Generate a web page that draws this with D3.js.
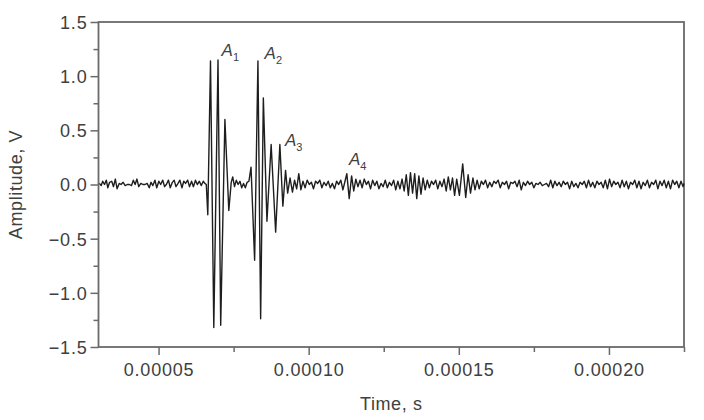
<!DOCTYPE html>
<html>
<head>
<meta charset="utf-8">
<script src="https://cdn.jsdelivr.net/npm/d3@7"></script>
<style>
  body { margin: 0; background: #fff; }
  text { font-family: "Liberation Sans", Arial, sans-serif; fill: #404040; }
</style>
</head>
<body>
<svg id="svg"></svg>
<script>
  // signal segments, [time in microseconds, amplitude in V]
  const leadNoise = [
    [30.3, 0.01], [30.9, -0.01], [31.4, 0.03], [32.0, 0.00], [32.6, 0.04], [33.1, -0.03],
    [33.7, 0.02], [34.4, 0.03], [35.0, -0.02], [35.6, 0.05], [36.2, -0.04], [36.9, 0.01],
    [37.5, 0.00], [38.2, 0.02], [38.9, -0.01], [39.6, 0.00], [40.3, 0.00], [41.0, -0.01],
    [41.6, 0.04], [42.2, 0.00], [42.8, 0.05], [43.4, -0.02], [44.1, 0.01], [44.8, 0.00],
    [45.5, 0.00], [46.2, 0.01], [46.9, -0.03], [47.5, 0.02], [48.1, -0.01], [48.8, 0.04],
    [49.4, -0.03], [50.1, 0.03], [50.7, 0.00], [51.4, 0.04], [52.0, -0.02], [52.6, 0.00],
    [53.3, 0.04], [53.9, -0.03], [54.6, 0.02], [55.2, 0.04], [55.8, -0.02], [56.5, 0.01],
    [57.1, 0.04], [57.8, -0.03], [58.4, 0.03], [59.0, 0.01], [59.7, 0.04], [60.3, -0.02],
    [61.0, 0.03], [61.6, -0.02], [62.3, 0.04], [62.9, 0.00], [63.6, 0.03], [64.2, -0.01],
    [64.9, 0.03], [65.4, 0.01]
  ];
  const burstA1 = [
    [65.9, 0.00], [66.4, -0.28], [67.3, 1.14], [68.4, -1.32], [69.8, 1.15], [70.7, -1.30],
    [72.1, 0.60], [73.4, -0.24]
  ];
  const gapNoise = [
    [74.2, 0.02], [74.7, 0.07], [75.3, -0.02], [75.9, 0.04], [76.5, 0.00], [77.1, 0.03],
    [77.7, -0.03], [78.3, 0.01], [78.9, -0.03], [79.5, 0.02], [80.1, 0.03]
  ];
  const burstA2 = [
    [80.8, 0.16], [82.0, -0.70], [83.1, 1.14], [84.0, -1.24], [84.9, 0.80], [86.1, -0.34],
    [87.5, 0.37], [89.0, -0.44], [90.4, 0.37], [91.4, -0.20], [92.3, 0.13], [93.0, -0.08],
    [93.8, 0.06], [94.6, -0.07], [95.3, 0.04], [96.0, -0.04], [96.7, 0.10], [97.4, -0.05]
  ];
  const midNoise = [
    [98.1, 0.03], [98.8, -0.03], [99.5, 0.04], [100.2, 0.00], [100.9, 0.02], [101.6, -0.04],
    [102.3, 0.03], [103.0, 0.01], [103.7, 0.04], [104.4, -0.03], [105.1, 0.02], [105.8, -0.01],
    [106.5, 0.03], [107.2, -0.03], [107.9, 0.01], [108.6, -0.04], [109.3, 0.03], [110.0, 0.00],
    [110.7, 0.04], [111.4, -0.05], [112.1, 0.03], [112.7, 0.10], [113.5, -0.13], [114.3, 0.08],
    [115.0, -0.06], [115.7, 0.05], [116.4, -0.02], [117.1, 0.04], [117.8, -0.03], [118.5, 0.05],
    [119.2, 0.00], [119.9, 0.03], [120.6, -0.04], [121.3, 0.04], [122.0, -0.01], [122.7, 0.03],
    [123.4, -0.04], [124.1, 0.01], [124.8, -0.02], [125.5, 0.04], [126.2, -0.03], [126.9, 0.02],
    [127.6, -0.01], [128.3, 0.04], [129.0, -0.05], [129.7, 0.03], [130.4, -0.04], [131.1, 0.05],
    [131.8, -0.06], [132.5, 0.09], [133.2, -0.10], [133.9, 0.11], [134.6, -0.08], [135.3, 0.10],
    [136.0, -0.13], [136.7, 0.08], [137.4, -0.09], [138.1, 0.06], [138.8, -0.05], [139.5, 0.04],
    [140.2, -0.03], [140.9, 0.03], [141.6, 0.00], [142.3, 0.04], [143.0, -0.04], [143.7, 0.03],
    [144.4, -0.02], [145.1, 0.05], [145.8, -0.06], [146.5, 0.07], [147.2, -0.05], [147.9, 0.06],
    [148.6, -0.10], [149.3, 0.05], [150.2, -0.10], [151.3, 0.19], [152.3, -0.12], [153.1, 0.09],
    [153.9, -0.08], [154.7, 0.06], [155.4, -0.05]
  ];
  const tailNoise = [
    [156.1, 0.04], [156.8, -0.04], [157.5, 0.03], [158.2, 0.00], [158.9, 0.04], [159.6, -0.03],
    [160.3, 0.02], [161.0, -0.02], [161.7, 0.03], [162.4, 0.01], [163.1, 0.04], [163.8, -0.03],
    [164.5, 0.02], [165.2, 0.00], [165.9, 0.03], [166.6, -0.04], [167.3, 0.02], [168.0, 0.01],
    [168.7, 0.03], [169.4, -0.02], [170.1, 0.04], [170.8, -0.05], [171.5, 0.02], [172.2, -0.01],
    [172.9, 0.03], [173.6, 0.00], [174.3, 0.02], [175.0, -0.03], [175.7, 0.01], [176.4, 0.00],
    [177.1, 0.02], [177.8, -0.01], [178.5, 0.00], [179.2, 0.01], [179.9, -0.02], [180.6, 0.04],
    [181.3, -0.03], [182.0, 0.03], [182.7, -0.01], [183.4, 0.02], [184.1, -0.02], [184.8, 0.03],
    [185.5, 0.00], [186.2, 0.02], [186.9, -0.04], [187.6, 0.03], [188.3, -0.02], [189.0, 0.01],
    [189.7, -0.03], [190.4, 0.02], [191.1, 0.00], [191.8, 0.03], [192.5, -0.03], [193.2, 0.04],
    [193.9, -0.02], [194.6, 0.02], [195.3, -0.03], [196.0, 0.03], [196.7, 0.00], [197.4, 0.02],
    [198.1, -0.03], [198.8, 0.04], [199.5, -0.04], [200.2, 0.05], [200.9, -0.02], [201.6, 0.03],
    [202.3, 0.00], [203.0, 0.02], [203.7, -0.03], [204.4, 0.04], [205.1, -0.02], [205.8, 0.03],
    [206.5, -0.04], [207.2, 0.02], [207.9, 0.00], [208.6, 0.04], [209.3, -0.03], [210.0, 0.03],
    [210.7, -0.04], [211.4, 0.02], [212.1, -0.01], [212.8, 0.04], [213.5, -0.03], [214.2, 0.02],
    [214.9, 0.00], [215.6, 0.04], [216.3, -0.04], [217.0, 0.03], [217.7, -0.01], [218.4, 0.04],
    [219.1, -0.03], [219.8, 0.03], [220.5, -0.04], [221.2, 0.04], [221.9, 0.00], [222.6, 0.03],
    [223.3, -0.03], [224.0, 0.03], [224.7, -0.02], [225.0, 0.01]
  ];

  // peak annotations: [letter, index, time in µs, amplitude of baseline]
  const peakLabels = [
    ["A", "1", 71.0, 1.19],
    ["A", "2", 85.3, 1.16],
    ["A", "3", 92.1, 0.36],
    ["A", "4", 113.4, 0.18]
  ];

  const xTicks = [0.00005, 0.00010, 0.00015, 0.00020];
  const xMinorTicks = [0.000075, 0.000125, 0.000175, 0.000225];
  const yTicks = [-1.5, -1.0, -0.5, 0.0, 0.5, 1.0, 1.5];
  const yMinorTicks = [-1.25, -0.75, -0.25, 0.25, 0.75, 1.25];

  const signal = leadNoise.concat(burstA1, gapNoise, burstA2, midNoise, tailNoise)
    .map(d => ({ t: d[0] * 1e-6, v: d[1] }));

  const marginLeft = 98.5;
  const marginTop = 22;
  const width = 684 - marginLeft;
  const height = 347 - marginTop;

  const svg = d3.select("#svg")
      .attr("width", 704)
      .attr("height", 420);

  const xScale = d3.scaleLinear()
      .domain([0.00003, 0.000225])
      .range([0, width]);

  const yScale = d3.scaleLinear()
      .domain([-1.5, 1.5])
      .range([height, 0]);

  const chart = svg.append("g")
      .attr("transform", `translate(${marginLeft}, ${marginTop})`);

  const axisColor = "#6a6a6a";

  // minor ticks
  chart.append("g")
      .attr("transform", `translate(0, ${height})`)
      .call(d3.axisBottom(xScale).tickValues(xMinorTicks).tickSize(5).tickFormat(""))
      .call(g => g.select(".domain").remove())
      .call(g => g.selectAll("line").attr("stroke", axisColor).attr("stroke-width", 1.5));

  chart.append("g")
      .call(d3.axisLeft(yScale).tickValues(yMinorTicks).tickSize(5).tickFormat(""))
      .call(g => g.select(".domain").remove())
      .call(g => g.selectAll("line").attr("stroke", axisColor).attr("stroke-width", 1.5));

  // major axes
  const xAxis = chart.append("g")
      .attr("transform", `translate(0, ${height})`)
      .call(d3.axisBottom(xScale).tickValues(xTicks).tickSize(8).tickPadding(8)
        .tickFormat(d3.format(".5f")));

  const yAxis = chart.append("g")
      .call(d3.axisLeft(yScale).tickValues(yTicks).tickSize(8).tickPadding(3)
        .tickFormat(d3.format(".1f")));

  [xAxis, yAxis].forEach(a => {
    a.select(".domain").remove();
    a.selectAll("line").attr("stroke", axisColor).attr("stroke-width", 1.5);
    a.selectAll("text")
      .attr("fill", "#404040")
      .style("font-size", "18px")
      .style("letter-spacing", "0.8px");
  });
  yAxis.selectAll("text").attr("dy", "0.36em");

  // frame
  chart.append("rect")
      .attr("x", 0)
      .attr("y", 0)
      .attr("width", width)
      .attr("height", height)
      .attr("fill", "none")
      .attr("stroke", axisColor)
      .attr("stroke-width", 1.8);

  // waveform
  chart.append("path")
      .datum(signal)
      .attr("fill", "none")
      .attr("stroke", "#1e1e1e")
      .attr("stroke-width", 1.4)
      .attr("stroke-linejoin", "round")
      .attr("d", d3.line()
        .x(function(d) { return xScale(d.t); })
        .y(function(d) { return yScale(d.v); })
      );

  // peak labels
  const lbl = chart.selectAll(".peak-label")
      .data(peakLabels)
      .enter().append("text")
      .attr("class", "peak-label")
      .attr("x", d => xScale(d[2] * 1e-6))
      .attr("y", d => yScale(d[3]))
      .style("font-size", "17px");
  lbl.append("tspan")
      .style("font-style", "italic")
      .text(d => d[0]);
  lbl.append("tspan")
      .attr("dy", 5)
      .style("font-size", "11px")
      .text(d => d[1]);

  // axis titles
  svg.append("text")
      .attr("x", marginLeft + width / 2)
      .attr("y", 410)
      .attr("text-anchor", "middle")
      .style("font-size", "18px")
      .style("letter-spacing", "0.6px")
      .text("Time, s");

  svg.append("text")
      .attr("transform", `translate(22, ${marginTop + height / 2}) rotate(-90)`)
      .attr("text-anchor", "middle")
      .style("font-size", "18px")
      .style("letter-spacing", "0.6px")
      .text("Amplitude, V");
</script>
</body>
</html>
